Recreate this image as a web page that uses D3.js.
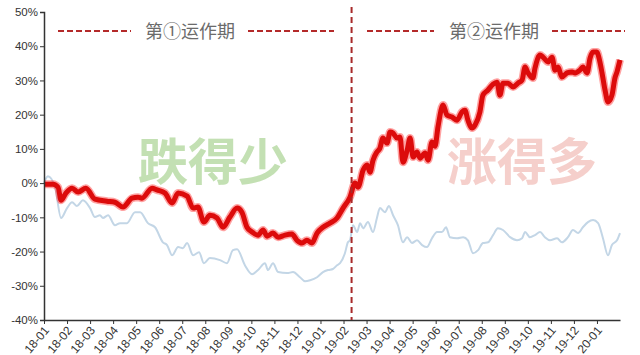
<!DOCTYPE html>
<html><head><meta charset="utf-8">
<script src="https://cdn.jsdelivr.net/npm/d3@7"></script>
<style>
html,body{margin:0;padding:0;background:#fff;}
svg{display:block;font-family:"Liberation Sans",Arial,sans-serif;}
</style></head>
<body><svg id="c" width="640" height="355"></svg>
<script>
// month tick labels (position = index in months from 2018-01)
const monthLabels = ["18-01","18-02","18-03","18-04","18-05","18-06","18-07","18-08","18-09","18-10","18-11","18-12",
  "19-01","19-02","19-03","19-04","19-05","19-06","19-07","19-08","19-09","19-10","19-11","19-12","20-01"];
const yTicks = [-40,-30,-20,-10,0,10,20,30,40,50];

// red series: time (months since 2018-01) and cumulative return (%)
const redT = [0,0.39,0.61,0.74,0.95,1.22,1.48,1.82,2.21,2.73,3.08,3.43,3.82,4.08,4.25,4.69,4.90,5.25,5.56,5.82,6.21,6.47,6.68,6.94,7.20,7.51,7.77,8.07,8.38,8.59,8.81,9.03,9.29,9.51,9.68,9.94,10.16,10.46,10.76,10.98,11.20,11.41,11.63,11.85,12.11,12.41,12.72,12.98,13.28,13.50,13.63,13.85,14.02,14.15,14.28,14.45,14.58,14.71,14.89,15.02,15.15,15.32,15.45,15.58,15.76,15.89,16.02,16.19,16.32,16.54,16.67,16.84,16.97,17.10,17.32,17.49,17.71,17.93,18.14,18.27,18.40,18.58,18.71,18.92,19.05,19.27,19.49,19.66,19.79,19.92,20.14,20.36,20.57,20.75,20.88,21.01,21.22,21.31,21.53,21.66,21.88,22.05,22.18,22.31,22.48,22.70,22.92,23.05,23.26,23.39,23.57,23.70,23.83,24.00,24.09,24.22,24.35,24.48,24.65,24.78,24.87,25.00];
const redV = [-0.3,-0.3,-1.2,-5.0,-2.9,-1.5,-2.6,-1.5,-4.7,-5.3,-5.6,-7.0,-4.4,-4.1,-4.4,-1.5,-2.0,-2.9,-5.8,-2.9,-3.8,-7.3,-7.0,-11.4,-9.4,-10.2,-12.9,-9.9,-7.3,-8.5,-12.9,-14.3,-15.2,-13.7,-15.5,-14.6,-15.8,-15.2,-14.9,-16.7,-17.5,-16.7,-17.5,-14.6,-12.9,-11.7,-10.2,-7.3,-4.1,0.0,-1.2,3.8,5.3,3.2,6.7,9.1,10.2,13.2,11.7,14.9,14.6,13.2,13.5,6.1,9.6,13.2,7.6,9.1,7.3,8.8,6.7,12.0,10.8,16.4,22.8,19.9,19.3,18.4,20.8,21.3,18.4,16.1,17.0,20.8,25.7,27.2,28.9,29.5,25.7,29.2,29.2,28.1,29.2,30.1,33.9,32.2,30.7,33.6,37.4,36.8,35.4,36.8,33.0,33.9,31.0,32.2,32.5,32.2,33.0,33.9,32.2,36.5,38.3,38.3,36.5,32.2,27.2,23.7,25.7,30.7,32.5,36.0];

// light-blue series
const blueT = [0,0.17,0.48,0.74,1.00,1.22,1.43,1.69,2.00,2.21,2.43,2.56,2.78,3.08,3.30,3.60,3.95,4.17,4.51,4.82,5.16,5.34,5.56,5.82,6.03,6.21,6.47,6.73,6.94,7.20,7.64,7.94,8.20,8.38,8.72,9.03,9.29,9.59,9.72,9.94,10.16,10.55,10.81,11.11,11.33,11.55,11.85,12.11,12.33,12.54,12.72,12.85,13.06,13.19,13.28,13.41,13.59,13.72,13.85,14.06,14.28,14.45,14.58,14.80,14.97,15.15,15.36,15.58,15.76,15.97,16.19,16.41,16.62,16.84,17.06,17.27,17.45,17.62,17.93,18.19,18.40,18.62,18.84,19.05,19.27,19.49,19.70,19.92,20.23,20.53,20.75,20.88,21.09,21.31,21.53,21.74,21.96,22.27,22.48,22.74,22.96,23.18,23.39,23.61,23.83,24.05,24.26,24.48,24.65,24.87,25.00];
const blueV = [0,2.0,-1.2,-10.2,-7.3,-5.6,-6.7,-5.0,-7.3,-9.9,-9.4,-10.2,-9.4,-12.3,-11.7,-11.7,-8.5,-8.5,-11.7,-12.9,-17.3,-18.1,-21.1,-18.7,-19.0,-17.5,-21.1,-20.2,-23.4,-21.9,-22.5,-23.4,-19.6,-19.3,-24.0,-26.6,-25.4,-23.4,-25.4,-23.4,-26.0,-26.3,-26.0,-27.5,-28.7,-28.4,-27.5,-26.0,-25.4,-25.1,-24.0,-23.4,-20.5,-17.3,-16.7,-12.3,-14.3,-11.7,-13.2,-11.4,-14.3,-10.2,-7.3,-8.5,-6.7,-9.4,-12.3,-17.3,-15.8,-17.5,-16.7,-18.1,-18.7,-16.1,-14.3,-14.3,-12.9,-15.8,-16.1,-15.8,-16.7,-20.5,-19.6,-17.5,-17.3,-15.2,-13.2,-13.7,-15.8,-16.7,-16.1,-14.3,-15.8,-15.2,-14.3,-15.8,-16.7,-16.1,-17.3,-15.8,-13.7,-14.6,-12.9,-11.4,-10.8,-11.7,-16.1,-21.1,-18.1,-16.7,-14.6];

const periodSplit = 13.35; // divider between the two operation periods (months)
const periodLabels = ["第①运作期","第②运作期"];
const watermarks = ["跌得少","涨得多"];

const svg = d3.select("#c");
const x = d3.scaleLinear().domain([0, 25]).range([44, 620]);
const y = d3.scaleLinear().domain([-40, 50]).range([320, 12]);

// watermarks
svg.append("text").attr("x", 213).attr("y", 180).attr("text-anchor","middle")
  .attr("font-family","'Noto Sans CJK SC',sans-serif").attr("font-weight",700).attr("font-size",50)
  .attr("fill","#c3e0b3").text(watermarks[0]);
svg.append("text").attr("x", 522).attr("y", 180).attr("text-anchor","middle")
  .attr("font-family","'Noto Sans CJK SC',sans-serif").attr("font-weight",700).attr("font-size",50)
  .attr("fill","#f5cfcb").text(watermarks[1]);

const blueData = blueT.map((t,i)=>[t, blueV[i]]);
const redData = redT.map((t,i)=>[t, redV[i]]);
const line = d3.line().x(d=>x(d[0])).y(d=>y(d[1])).curve(d3.curveMonotoneX);

// blue line
svg.append("path").datum(blueData).attr("d", line).attr("fill","none")
  .attr("stroke","#c3d6e6").attr("stroke-width",2).attr("stroke-linejoin","round");

// red line (glow + core)
svg.append("path").datum(redData).attr("d", line).attr("fill","none")
  .attr("stroke","#ff3030").attr("stroke-opacity",0.45).attr("stroke-width",8).attr("stroke-linejoin","round");
svg.append("path").datum(redData).attr("d", line).attr("fill","none")
  .attr("stroke","#dc0b0b").attr("stroke-width",5).attr("stroke-linejoin","round");

// axes
const yAxis = d3.axisLeft(y).tickValues(yTicks).tickSize(4).tickFormat(d=>d+"%");
const gy = svg.append("g").attr("transform","translate(44,0)").call(yAxis);
gy.select(".domain").attr("stroke","#333").attr("stroke-width",1.5);
gy.selectAll(".tick line").attr("stroke","#333");
gy.selectAll(".tick text").attr("font-size",11.5).attr("fill","#333").attr("x",-6)
  .attr("font-family","'Liberation Sans',Arial,sans-serif");

const xAxis = d3.axisBottom(x).tickValues(d3.range(monthLabels.length)).tickSize(4)
  .tickSizeOuter(0).tickFormat(i=>monthLabels[i]);
const gx = svg.append("g").attr("transform","translate(0,320)").call(xAxis);
gx.select(".domain").attr("stroke","#333").attr("stroke-width",1.5);
gx.selectAll(".tick line").attr("stroke","#333");
gx.selectAll(".tick text").attr("font-size",12).attr("fill","#333")
  .attr("font-family","'Liberation Sans',Arial,sans-serif")
  .attr("text-anchor","end").attr("y",0).attr("dy","0.35em")
  .attr("transform","translate(2,8) rotate(-50)");

// period divider
svg.append("line").attr("x1", x(periodSplit)).attr("x2", x(periodSplit)).attr("y1", 7).attr("y2", 320)
  .attr("stroke","#a82a2a").attr("stroke-width",2).attr("stroke-dasharray","6,4");

// period headers
const hdr = [
  {segs:[[58,131],[248,334]], cx:190, label:periodLabels[0]},
  {segs:[[367,434],[552,625]], cx:494, label:periodLabels[1]}
];
hdr.forEach(h=>{
  h.segs.forEach(s=>{
    svg.append("line").attr("x1",s[0]).attr("x2",s[1]).attr("y1",31).attr("y2",31)
      .attr("stroke","#b42a2a").attr("stroke-width",2.2).attr("stroke-dasharray","6,3");
  });
  svg.append("text").attr("x",h.cx).attr("y",38).attr("text-anchor","middle")
    .attr("font-family","'Noto Sans CJK SC',sans-serif").attr("font-size",18)
    .attr("fill","#6b6b6b").text(h.label);
});
</script></body></html>
